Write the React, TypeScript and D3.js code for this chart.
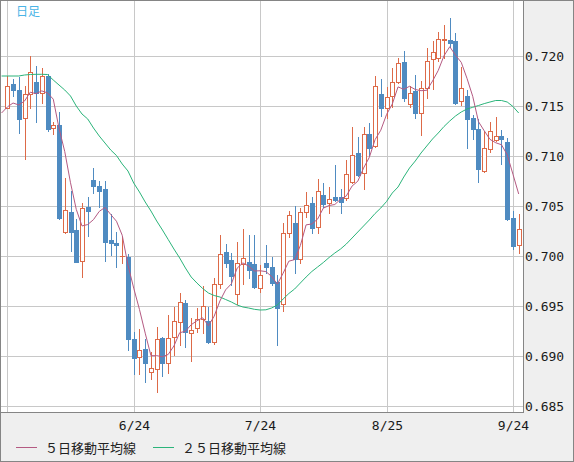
import React from "react";
import * as d3 from "d3";

const W = 574;
const H = 462;

// Daily candles (index 0..89)
const opens = [
  0.71485, 0.7172, 0.7166, 0.71385, 0.7162, 0.71737, 0.71633, 0.718, 0.71285, 0.71307,
  0.70243, 0.7044, 0.7026, 0.69953, 0.7049, 0.7076, 0.707, 0.7067, 0.7016, 0.70133,
  0.69998, 0.69993, 0.6917, 0.68995, 0.69067, 0.6884, 0.68867, 0.69177, 0.68927, 0.69187,
  0.69337, 0.69527, 0.69227, 0.69277, 0.69367, 0.6935, 0.69143, 0.6972, 0.70037, 0.6996,
  0.6962, 0.6992, 0.69943, 0.6992, 0.69677, 0.69933, 0.69893, 0.69743, 0.69517, 0.70233,
  0.70333, 0.69967, 0.70437, 0.70527, 0.70287, 0.7061, 0.70527, 0.70587, 0.70587, 0.70577,
  0.70743, 0.71027, 0.70833, 0.71217, 0.711, 0.7162, 0.71483, 0.716, 0.71737, 0.71937,
  0.71517, 0.7165, 0.71433, 0.71683, 0.71967, 0.71977, 0.7216, 0.7216, 0.7215, 0.71553,
  0.716, 0.71377, 0.7127, 0.70853, 0.71067, 0.7116, 0.712, 0.7114, 0.70377, 0.7011,
];
const highs = [
  0.718, 0.7177, 0.71795, 0.717, 0.72, 0.719, 0.71877, 0.7182, 0.71343, 0.7144,
  0.70777, 0.7065, 0.7037, 0.70533, 0.70593, 0.7088, 0.70753, 0.70753, 0.7042, 0.70243,
  0.7019, 0.70017, 0.69237, 0.69267, 0.69167, 0.69037, 0.69293, 0.69193, 0.6941, 0.69493,
  0.69627, 0.6956, 0.6938, 0.69477, 0.697, 0.6949, 0.6978, 0.7021, 0.7012, 0.70027,
  0.70143, 0.70267, 0.7021, 0.7021, 0.6991, 0.7011, 0.69993, 0.6981, 0.70333, 0.7045,
  0.705, 0.70477, 0.70637, 0.70593, 0.70767, 0.70733, 0.70687, 0.7091, 0.70667, 0.7096,
  0.71287, 0.71193, 0.71287, 0.71327, 0.718, 0.71767, 0.71693, 0.71877, 0.71977, 0.7205,
  0.717, 0.7181, 0.7175, 0.72077, 0.7215, 0.72243, 0.7231, 0.72377, 0.72227, 0.71887,
  0.7166, 0.7141, 0.71367, 0.71253, 0.71343, 0.71393, 0.7126, 0.71177, 0.7045, 0.7042,
];
const lows = [
  0.7148, 0.716, 0.71233, 0.70975, 0.71485, 0.71343, 0.71527, 0.71253, 0.7122, 0.70373,
  0.70233, 0.70053, 0.6994, 0.69787, 0.702, 0.70633, 0.7049, 0.69953, 0.7001, 0.69893,
  0.6993, 0.6906, 0.6882, 0.6882, 0.68743, 0.6877, 0.68643, 0.688, 0.6883, 0.6901,
  0.6911, 0.6909, 0.68953, 0.6924, 0.69227, 0.69127, 0.6912, 0.69677, 0.69887, 0.6971,
  0.6952, 0.6972, 0.69777, 0.69677, 0.69643, 0.69827, 0.6971, 0.6911, 0.69453, 0.70193,
  0.69833, 0.69933, 0.70393, 0.70227, 0.70227, 0.70487, 0.70433, 0.70553, 0.70433, 0.7056,
  0.70733, 0.708, 0.70667, 0.7101, 0.71087, 0.714, 0.71377, 0.71493, 0.71727, 0.71553,
  0.71493, 0.71383, 0.7121, 0.71583, 0.7167, 0.71953, 0.71977, 0.72087, 0.7152, 0.7151,
  0.71077, 0.71167, 0.70743, 0.70843, 0.71043, 0.7115, 0.7092, 0.7036, 0.70067, 0.70033,
];
const closes = [
  0.717, 0.7166, 0.71373, 0.7162, 0.71837, 0.71625, 0.718, 0.71273, 0.71307, 0.70383,
  0.70457, 0.70243, 0.69943, 0.70477, 0.70453, 0.70703, 0.70653, 0.70143, 0.70125, 0.70113,
  0.70003, 0.69167, 0.68985, 0.6906, 0.68927, 0.68877, 0.69167, 0.6893, 0.69177, 0.6935,
  0.6954, 0.6924, 0.69257, 0.69373, 0.695, 0.69143, 0.69717, 0.70017, 0.69933, 0.698,
  0.69927, 0.69977, 0.6986, 0.69687, 0.6981, 0.69887, 0.69733, 0.69477, 0.70233, 0.7041,
  0.69967, 0.70437, 0.7051, 0.70277, 0.70653, 0.70517, 0.70567, 0.7056, 0.70543, 0.70817,
  0.7101, 0.7081, 0.71217, 0.71077, 0.71703, 0.71483, 0.71593, 0.71743, 0.71933, 0.71583,
  0.71633, 0.71433, 0.71683, 0.71953, 0.72043, 0.72167, 0.72167, 0.72133, 0.71533, 0.71683,
  0.71367, 0.71267, 0.70867, 0.71077, 0.71253, 0.712, 0.71167, 0.70367, 0.701, 0.70267,
];
// closes of the five days before the first visible candle (for the 5-day average)
const priorCloses = [0.714, 0.7146, 0.71473, 0.7142, 0.71397];

// 25-day moving average, index -1..89
const ma25Values = [
  0.718,
  0.718, 0.718, 0.718, 0.7181, 0.71815, 0.71817, 0.71817, 0.71815, 0.7176, 0.7171,
  0.7166, 0.716, 0.715, 0.7142, 0.7137, 0.7128, 0.712, 0.7113, 0.7106, 0.71005,
  0.7092, 0.7085, 0.7073, 0.7064, 0.7054, 0.7045, 0.7035, 0.7026, 0.70165, 0.7007,
  0.6998, 0.6988, 0.6979, 0.6973, 0.69675, 0.6963, 0.69605, 0.6959, 0.69565, 0.6954,
  0.6951, 0.6949, 0.6948, 0.69467, 0.6946, 0.69462, 0.6948, 0.6951, 0.6957, 0.69625,
  0.6967, 0.6973, 0.6979, 0.69845, 0.6989, 0.69935, 0.69985, 0.7003, 0.7007, 0.7012,
  0.7018, 0.7024, 0.703, 0.7036, 0.70425, 0.7048, 0.70545, 0.7063, 0.7069, 0.7079,
  0.7088, 0.7095, 0.7103, 0.711, 0.7117, 0.7123, 0.71295, 0.7135, 0.714, 0.7144,
  0.7147, 0.71487, 0.71505, 0.71524, 0.7154, 0.71555, 0.71555, 0.7154, 0.71495, 0.7143,
];

const yTicks = [0.685, 0.69, 0.695, 0.7, 0.705, 0.71, 0.715, 0.72];
const xTickIndex = [0, 22, 44, 66, 88];
const xTickLabels = ["", "6/24", "7/24", "8/25", "9/24"];
const legendLabels = ["５日移動平均線", "２５日移動平均線"];
const titleText = "日足";

const UP = "#dd6a48";
const DOWN = "#4f8bc1";
const MA5C = "#b45a82";
const MA25C = "#2bb47a";
const GRID = "#c8c8c8";
const BORDER = "#858585";
const MONO = "'DejaVu Sans Mono', monospace";
const CJK = "'Noto Sans CJK JP', sans-serif";

export default function App() {
  const n = closes.length;
  const x = d3.scaleLinear().domain([0, n - 1]).range([7.3, 518.7]);
  const y = d3.scaleLinear().domain([0.685, 0.72]).range([406, 56]);

  const all = priorCloses.concat(closes);
  const ma5: [number, number][] = [];
  for (let i = -1; i < n; i++) {
    const j = i + priorCloses.length;
    const v = d3.mean(all.slice(j - 4, j + 1)) as number;
    ma5.push([i, v]);
  }
  const ma25: [number, number][] = ma25Values.map((v, k) => [k - 1, v]);

  const line = d3
    .line<[number, number]>()
    .x((d) => x(d[0]))
    .y((d) => y(d[1]));

  const plotW = 523;
  const plotH = 412;

  return (
    <svg
      width={W}
      height={H}
      style={{ position: "absolute", left: 0, top: 0, display: "block" }}
    >
      <defs>
        <clipPath id="plotClip">
          <rect x={1} y={1} width={plotW - 1} height={plotH - 1} />
        </clipPath>
      </defs>
      <rect x={0.5} y={0.5} width={W - 1} height={H - 1} fill="#efefef" stroke={BORDER} />
      <rect x={0.5} y={0.5} width={plotW} height={plotH} fill="#ffffff" stroke={BORDER} />

      <g shapeRendering="crispEdges">
        {yTicks.map((v) => (
          <line
            key={"h" + v}
            x1={1}
            x2={plotW}
            y1={Math.round(y(v)) + 0.5}
            y2={Math.round(y(v)) + 0.5}
            stroke={GRID}
          />
        ))}
        {xTickIndex.map((i) => (
          <line
            key={"v" + i}
            x1={Math.round(x(i)) + 0.5}
            x2={Math.round(x(i)) + 0.5}
            y1={1}
            y2={plotH}
            stroke={GRID}
          />
        ))}
      </g>

      <text x={16} y={16} fontSize={12} fontFamily={CJK} fill="#4ab4e6">
        {titleText}
      </text>

      <g clipPath="url(#plotClip)">
        <g shapeRendering="crispEdges">
          {closes.map((c, i) => {
            const o = opens[i];
            const up = c >= o;
            const col = up ? UP : DOWN;
            const cx = Math.round(x(i));
            const top = Math.round(y(Math.max(o, c)));
            const bot = Math.round(y(Math.min(o, c)));
            const hi = Math.round(y(highs[i]));
            const lo = Math.round(y(lows[i]));
            const h = bot - top;
            return (
              <g key={i}>
                <line x1={cx + 0.5} x2={cx + 0.5} y1={hi} y2={lo + 1} stroke={col} />
                {up ? (
                  h >= 2 ? (
                    <rect
                      x={cx - 1.5}
                      y={top + 0.5}
                      width={4}
                      height={h}
                      fill="#ffffff"
                      stroke={col}
                    />
                  ) : (
                    <rect x={cx - 2} y={top} width={5} height={Math.max(1, h + 1)} fill={col} />
                  )
                ) : (
                  <rect x={cx - 2} y={top} width={5} height={Math.max(1, h + 1)} fill={col} />
                )}
              </g>
            );
          })}
        </g>
        <path d={line(ma25) || ""} fill="none" stroke={MA25C} strokeWidth={1} />
        <path d={line(ma5) || ""} fill="none" stroke={MA5C} strokeWidth={1} />
      </g>

      {yTicks.map((v) => (
        <text
          key={"yl" + v}
          x={525}
          y={Math.round(y(v)) + 5}
          fontSize={13}
          fontFamily={MONO}
          fill="#1a1a1a"
        >
          {v.toFixed(3)}
        </text>
      ))}
      {xTickIndex.map((i, k) => (
        <text
          key={"xl" + i}
          x={Math.round(x(i)) + 0.5}
          y={430}
          fontSize={13}
          fontFamily={MONO}
          textAnchor="middle"
          fill="#1a1a1a"
        >
          {xTickLabels[k]}
        </text>
      ))}

      <g>
        <line x1={16} x2={37} y1={447.5} y2={447.5} stroke={MA5C} />
        <text x={45} y={453} fontSize={13} fontFamily={CJK} fill="#222">
          {legendLabels[0]}
        </text>
        <line x1={153} x2={174} y1={447.5} y2={447.5} stroke={MA25C} />
        <text x={182} y={453} fontSize={13} fontFamily={CJK} fill="#222">
          {legendLabels[1]}
        </text>
      </g>
    </svg>
  );
}
